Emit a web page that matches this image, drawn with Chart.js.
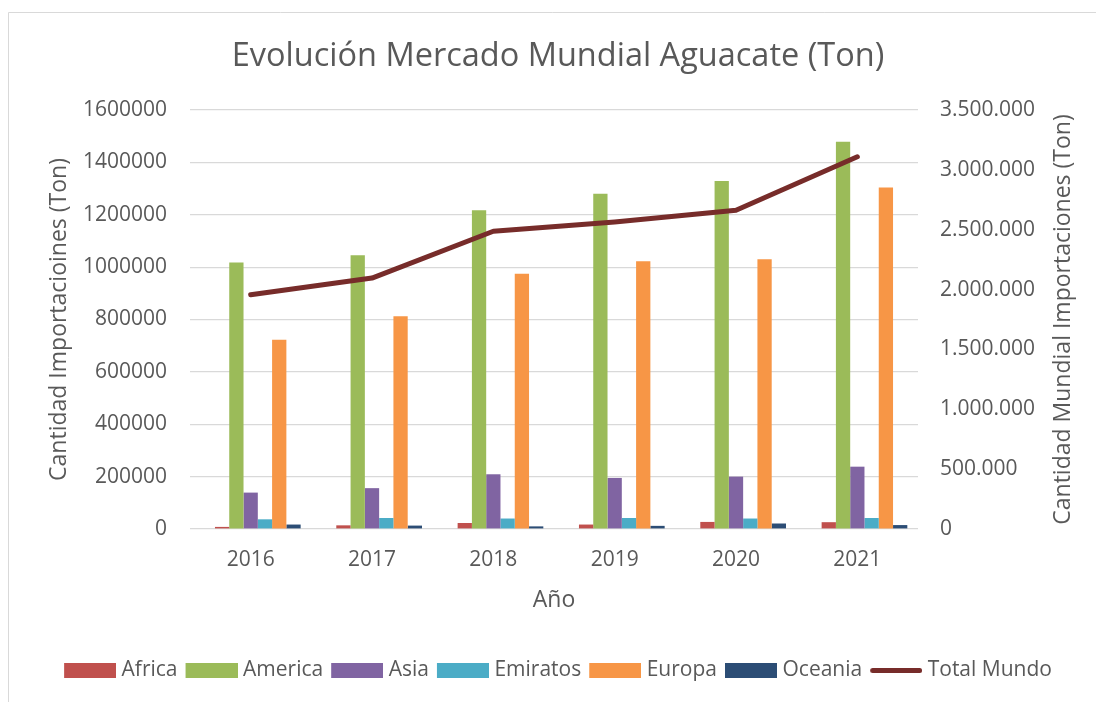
<!DOCTYPE html>
<html>
<head>
<meta charset="utf-8">
<script src="https://cdn.jsdelivr.net/npm/chart.js@4/dist/chart.umd.min.js"></script>
<style>
  html, body { margin: 0; padding: 0; background: #ffffff; }
  #wrap { position: absolute; left: 0; top: 0; width: 1096px; height: 702px; }
</style>
</head>
<body>
<div id="wrap"><canvas id="c" width="1096" height="702"></canvas></div>
<script>
const years = ['2016', '2017', '2018', '2019', '2020', '2021'];
const africa   = [8000, 14000, 23000, 17000, 27000, 26000];
const america  = [1018000, 1045000, 1217000, 1280000, 1329000, 1479000];
const asia     = [139000, 156000, 209000, 195000, 200000, 238000];
const emiratos = [37000, 42000, 40000, 42000, 40000, 42000];
const europa   = [723000, 812000, 975000, 1022000, 1030000, 1304000];
const oceania  = [17000, 13000, 10000, 12000, 21000, 15000];
const totalMundo = [1957000, 2096000, 2487000, 2565000, 2662000, 3109000];
const emptySlot = [null, null, null, null, null, null];

const leftTicks = [0, 200000, 400000, 600000, 800000, 1000000, 1200000, 1400000, 1600000];
const rightTicks = ['0', '500.000', '1.000.000', '1.500.000', '2.000.000', '2.500.000', '3.000.000', '3.500.000'];

const chartTitle = 'Evolución Mercado Mundial Aguacate (Ton)';
const leftTitle = 'Cantidad Importacioines (Ton)';
const rightTitle = 'Cantidad Mundial Importaciones (Ton)';
const xTitle = 'Año';

const textColor = '#595959';
const fontFamily = "'Open Sans', 'DejaVu Sans', sans-serif";
Chart.defaults.font.family = fontFamily;
Chart.defaults.color = textColor;

// legend swatches as small canvases (box 52 wide, offset so text gap matches)
function swatch(color, isLine) {
  const cv = document.createElement('canvas');
  cv.width = 57; cv.height = 15;
  const g = cv.getContext('2d');
  if (isLine) {
    g.strokeStyle = color; g.lineWidth = 5; g.lineCap = 'round';
    g.beginPath(); g.moveTo(7.5, 7.5); g.lineTo(54.5, 7.5); g.stroke();
  } else {
    g.fillStyle = color; g.fillRect(5, 0, 52, 15);
  }
  return cv;
}

const borderPlugin = {
  id: 'outerBorder',
  beforeDraw(chart) {
    const ctx = chart.ctx;
    ctx.save();
    ctx.fillStyle = '#ffffff';
    ctx.fillRect(0, 0, chart.width, chart.height);
    ctx.strokeStyle = '#d9d9d9';
    ctx.lineWidth = 1;
    ctx.beginPath();
    ctx.moveTo(8.5, chart.height);
    ctx.lineTo(8.5, 12.5);
    ctx.lineTo(chart.width, 12.5);
    ctx.stroke();
    ctx.restore();
  }
};

// right axis title reading bottom-to-top, like the left one
const rightTitlePlugin = {
  id: 'rightTitle',
  afterDraw(chart) {
    const ctx = chart.ctx;
    const s = chart.scales.y1;
    const area = chart.chartArea;
    ctx.save();
    ctx.translate(s.right - 33, (area.top + area.bottom) / 2);
    ctx.rotate(-Math.PI / 2);
    ctx.font = "23px " + fontFamily;
    ctx.fillStyle = textColor;
    ctx.textAlign = 'center';
    ctx.textBaseline = 'middle';
    ctx.fillText(rightTitle, 0, 0);
    ctx.restore();
  }
};

function barSet(label, data, color) {
  return {
    type: 'bar', label, data, backgroundColor: color, borderWidth: 0,
    categoryPercentage: 0.824, barPercentage: 1.0, yAxisID: 'y', order: 2,
    swatch: swatch(color, false)
  };
}

new Chart(document.getElementById('c'), {
  data: {
    labels: years,
    datasets: [
      barSet('', emptySlot, 'rgba(0,0,0,0)'),
      barSet('Africa', africa, '#C0504D'),
      barSet('America', america, '#9BBB59'),
      barSet('Asia', asia, '#8064A2'),
      barSet('Emiratos', emiratos, '#4BACC6'),
      barSet('Europa', europa, '#F79646'),
      barSet('Oceania', oceania, '#2C4D75'),
      {
        type: 'line', label: 'Total Mundo', data: totalMundo,
        borderColor: '#772C2A', backgroundColor: '#772C2A', borderWidth: 5,
        borderCapStyle: 'round', borderJoinStyle: 'round',
        pointRadius: 0, tension: 0, yAxisID: 'y1', order: 1,
        swatch: swatch('#772C2A', true)
      }
    ]
  },
  options: {
    responsive: false,
    animation: false,
    layout: { padding: { left: 20, right: 0, top: 0, bottom: 11 } },
    plugins: {
      title: {
        display: true,
        text: chartTitle,
        color: textColor,
        font: { size: 32.5, weight: 'normal' },
        padding: { top: 37, bottom: 34 }
      },
      legend: {
        position: 'bottom',
        labels: {
          color: textColor,
          font: { size: 21 },
          usePointStyle: true,
          pointStyleWidth: 47,
          boxHeight: 15,
          padding: 8,
          generateLabels(chart) {
            return chart.data.datasets
              .map((ds, i) => ({
                text: ds.label,
                fillStyle: ds.backgroundColor,
                strokeStyle: ds.backgroundColor,
                lineWidth: 0,
                pointStyle: ds.swatch,
                hidden: false,
                datasetIndex: i,
                fontColor: textColor
              }))
              .filter(item => item.text !== '');
          }
        }
      },
      tooltip: { enabled: false }
    },
    scales: {
      x: {
        type: 'category',
        grid: { display: false },
        border: { display: false },
        ticks: { font: { size: 21 }, color: textColor, padding: 10, maxRotation: 0 },
        title: {
          display: true, text: xTitle, color: textColor,
          font: { size: 23 }, padding: { top: 0, bottom: 38 }
        },
        afterFit(scale) { scale.height = 123; }
      },
      y: {
        type: 'linear', position: 'left',
        min: 0, max: 1600000,
        afterBuildTicks(scale) { scale.ticks = leftTicks.map(v => ({ value: v })); },
        ticks: {
          font: { size: 21 }, color: textColor, padding: 23,
          callback: (v) => String(v)
        },
        grid: { color: '#d9d9d9', lineWidth: 1.2, drawTicks: false },
        border: { display: false },
        title: {
          display: true, text: leftTitle, color: textColor,
          font: { size: 23 }, padding: { top: 26, bottom: 0 }
        },
        afterFit(scale) { scale.width = 170; }
      },
      y1: {
        type: 'linear', position: 'right',
        min: 0, max: 3500000,
        afterBuildTicks(scale) { scale.ticks = rightTicks.map((t, i) => ({ value: i * 500000 })); },
        ticks: {
          font: { size: 21 }, color: textColor, padding: 22,
          callback: (v, i) => rightTicks[i]
        },
        grid: { display: false, drawTicks: false },
        border: { display: false },
        title: { display: false },
        afterFit(scale) { scale.width = 178; }
      }
    }
  },
  plugins: [borderPlugin, rightTitlePlugin]
});
</script>
</body>
</html>
